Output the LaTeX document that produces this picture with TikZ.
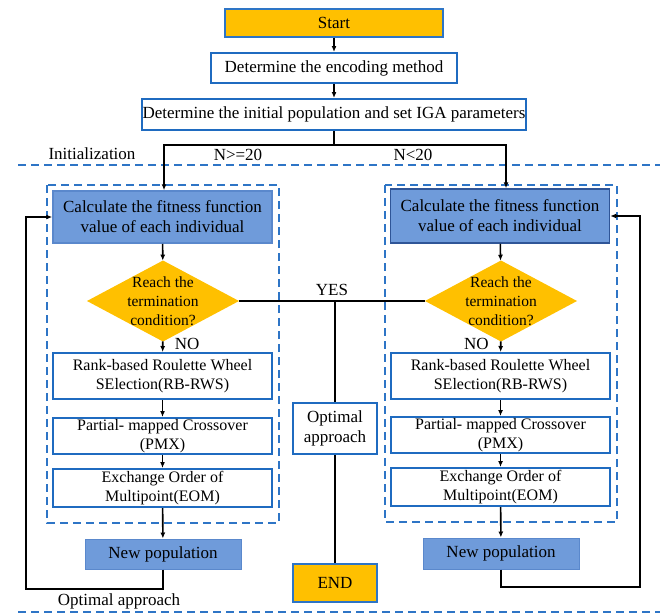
\documentclass[tikz,border=0pt]{standalone}
\usepackage{fontspec}
\setmainfont{Liberation Serif}
\usetikzlibrary{arrows.meta,positioning,shapes.geometric}

\definecolor{frameblue}{HTML}{2E75C6}
\definecolor{boxblue}{HTML}{1F6BC0}
\definecolor{calcfill}{HTML}{6F9BDA}
\definecolor{calcline}{HTML}{5A88CC}
\definecolor{darkline}{HTML}{2F5597}
\definecolor{gold}{HTML}{FFC000}

\begin{document}
\begin{tikzpicture}[
  x=1pt,y=-1pt,
  >={Latex[length=6pt,width=5pt]},
  font=\fontsize{17}{20}\selectfont,
  process/.style={draw=boxblue,line width=2pt,fill=white,minimum width=219pt,
    align=center,inner sep=1pt,font=\fontsize{16}{19}\selectfont},
  calc/.style={draw=calcline,line width=1.5pt,fill=calcfill,minimum width=219pt,
    minimum height=52pt,align=center,inner sep=1pt},
  terminal/.style={draw=frameblue,line width=1.5pt,fill=gold,align=center,inner sep=1pt},
  decision/.style={diamond,fill=gold,minimum width=152pt,minimum height=81pt,
    inner sep=0pt,outer sep=0pt,
    label={[align=center,font=\fontsize{15.5}{19}\selectfont]center:Reach the\\termination\\condition?}},
  group/.style={draw=frameblue,line width=2pt,dash pattern=on 8pt off 5pt},
  flow/.style={->,line width=1.6pt},
  link/.style={line width=1.6pt}
]
  \useasboundingbox (0,0) rectangle (660,613);

  % common start
  \node[terminal,minimum width=218pt,minimum height=28pt] (start) at (334,23) {Start};
  \node[process,minimum width=246pt,minimum height=30pt,font=\fontsize{17}{20}\selectfont]
    (encode) at (334,68) {Determine the encoding method};
  \node[process,minimum width=378pt,minimum height=31pt,font=\fontsize{17}{20}\selectfont]
    (init) at (334,114.5) {Determine the initial population and set IGA parameters};
  \coordinate (split) at (334,145);

  \draw[flow] (start) -- (encode);
  \draw[flow] (encode) -- (init);
  \draw[link] (init) -- (split);

  \node (initlabel) at (92,154) {Initialization};
  \node (bigN) at (238,155) {N>=20};
  \node (smallN) at (413,155) {N<20};
  \draw[group] (18,165) -- (660,165);

  % left branch
  \draw[group] (47,185) rectangle (279,523);
  \node[calc] (calcL) at (162.5,217) {Calculate the fitness function\\value of each individual};
  \node[decision] (stopL) at (163,301) {};
  \node[process,minimum height=46pt] (rwsL) at (162.5,376) {Rank-based Roulette Wheel\\SElection(RB-RWS)};
  \node[process,minimum height=36pt] (pmxL) at (162.5,436) {Partial- mapped Crossover\\(PMX)};
  \node[process,minimum height=38pt] (eomL) at (162.5,488) {Exchange Order of\\Multipoint(EOM)};
  \node[calc,minimum width=156pt,minimum height=30pt,line width=1pt] (newL) at (163,554) {New population};

  \draw[flow] (split) -| ([xshift=1.5pt]calcL.north);
  \draw[flow] (calcL) -- (stopL);
  \draw[flow] (stopL) -- node[right=8pt,pos=0.2]{NO} (rwsL);
  \draw[flow] (rwsL) -- (pmxL);
  \draw[flow] (pmxL) -- (eomL);
  \draw[flow] (eomL) -- (newL);
  \coordinate (loopL) at (26,589);
  \draw[flow] (newL.south) |- (loopL) |- (calcL.west);
  \node (optlabel) at (119,601) {Optimal approach};

  % right branch
  \draw[group] (385,185) rectangle (617,522);
  \node[calc,draw=darkline,minimum height=54pt] (calcR) at (500,216) {Calculate the fitness function\\value of each individual};
  \node[decision] (stopR) at (501,301) {};
  \node[process,minimum height=46pt] (rwsR) at (500.5,376) {Rank-based Roulette Wheel\\SElection(RB-RWS)};
  \node[process,minimum height=36pt] (pmxR) at (500.5,435) {Partial- mapped Crossover\\(PMX)};
  \node[process,minimum height=38pt] (eomR) at (500.5,487) {Exchange Order of\\Multipoint(EOM)};
  \node[calc,minimum width=156pt,minimum height=31pt,line width=1pt] (newR) at (501,553.5) {New population};

  \draw[flow] (split) -| ([xshift=6pt]calcR.north);
  \draw[flow] (calcR) -- (stopR);
  \draw[flow] (stopR) -- node[left=8pt,pos=0.2]{NO} (rwsR);
  \draw[flow] (rwsR) -- (pmxR);
  \draw[flow] (pmxR) -- (eomR);
  \draw[flow] (eomR) -- (newR);
  \coordinate (loopR) at (640,587);
  \draw[flow] (newR.south) |- (loopR) |- (calcR.east);

  % termination
  \node[process,minimum width=84pt,minimum height=51pt,font=\fontsize{17}{20}\selectfont]
    (best) at (335,428.5) {Optimal\\approach};
  \node[terminal,minimum width=84pt,minimum height=38pt] (finish) at (335,583) {END};
  \coordinate (yes) at (335,301);
  \draw[link] (stopL) -- node[above=1pt,pos=0.5]{YES} (stopR);
  \draw[link] (yes) -- (best);
  \draw[link] (best) -- (finish);

  \draw[group] (18,612) -- (660,612);
\end{tikzpicture}
\end{document}
